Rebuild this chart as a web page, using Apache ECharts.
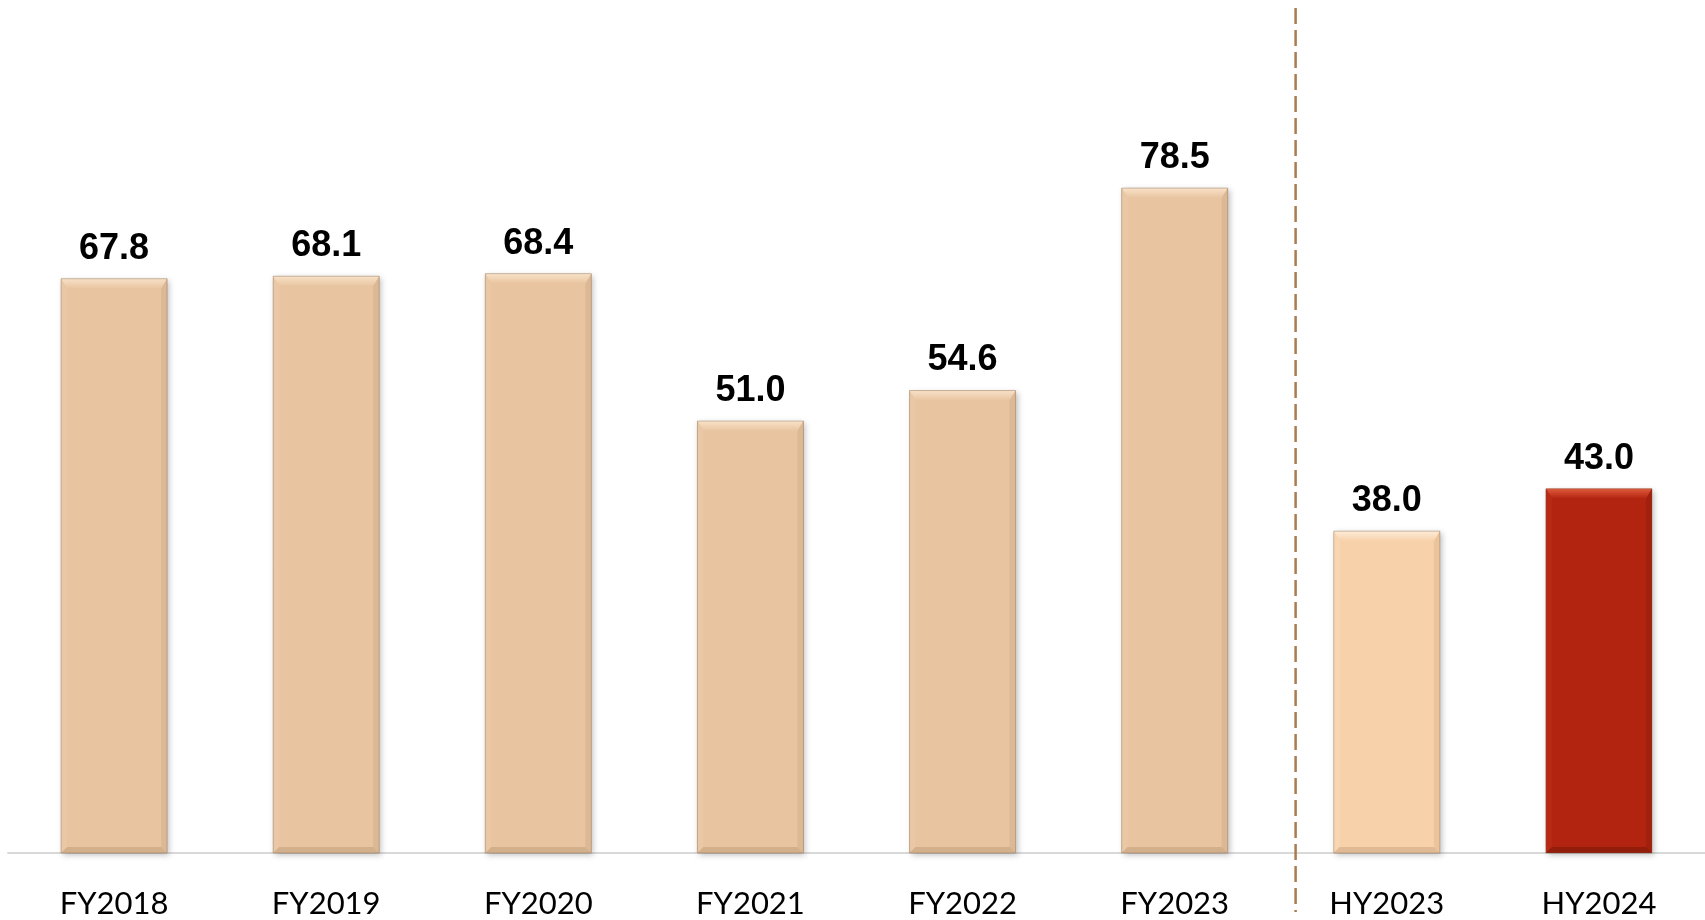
<!DOCTYPE html>
<html>
<head>
<meta charset="utf-8">
<script src="https://cdn.jsdelivr.net/npm/echarts@6/dist/echarts.min.js"></script>
<style>
html,body{margin:0;padding:0;background:#fff;}
#chart{width:1705px;height:920px;}
</style>
</head>
<body>
<div id="chart"></div>
<script>
// ---- data ----
const categories = ['FY2018','FY2019','FY2020','FY2021','FY2022','FY2023','HY2023','HY2024'];
const values = [67.8, 68.1, 68.4, 51.0, 54.6, 78.5, 38.0, 43.0];

// ---- styles (per bar palette index) ----
const paletteIndex = [0,0,0,0,0,0,1,2];
const palettes = [
  {base:'#e8c4a0', top:'#f8e2c8', bottom:'#d3b08c', left:'#ebc8a5', right:'#ddb895'},
  {base:'#f7d1aa', top:'#fdecd8', bottom:'#e0ba94', left:'#f9d6b1', right:'#ebc49d'},
  {base:'#b22410', top:'#e05a3c', bottom:'#921d0b', left:'#b82a15', right:'#a2200e'}
];
const barFrac = 0.5;

const chart = echarts.init(document.getElementById('chart'));
const option = {
  backgroundColor:'#ffffff',
  animation:false,
  grid:{left:8, right:0, top:6, bottom:67, containLabel:false},
  xAxis:{
    type:'category',
    data:categories,
    axisTick:{show:false},
    axisLine:{lineStyle:{color:'#d9d9d9', width:2}},
    axisLabel:{fontFamily:'Lato', fontSize:31, color:'#000', margin:35}
  },
  yAxis:{type:'value', min:0, max:100, show:false, splitLine:{show:false}},
  series:[
    {
      type:'bar',
      data:values.map((v,i)=>({value:v, itemStyle:{color:palettes[paletteIndex[i]].base}})),
      barWidth:(barFrac*100)+'%',
      itemStyle:{shadowBlur:6, shadowColor:'rgba(0,0,0,0.25)', shadowOffsetX:2, shadowOffsetY:2},
      label:{show:true, position:'top', distance:12, fontFamily:'Liberation Sans, Arial', fontWeight:'bold', fontSize:36, color:'#000',
        formatter:p=>p.value.toFixed(1)},
      z:2
    },
    {
      type:'custom',
      silent:true,
      z:3,
      data:values.map((v,i)=>[i,v]),
      renderItem:function(params, api){
        const i = api.value(0), v = api.value(1);
        const top = api.coord([i, v]);
        const base = api.coord([i, 0]);
        const w = api.size([1,0])[0]*barFrac;
        const x0 = top[0]-w/2, x1 = top[0]+w/2, y0 = top[1], y1 = base[1];
        const bt = 10, bs = 6, bb = 6;
        const pal = palettes[paletteIndex[params.dataIndex]];
        return {
          type:'group',
          children:[
            {type:'polygon', shape:{points:[[x0,y0],[x1,y0],[x1-bs,y0+bt],[x0+bs,y0+bt]]},
              style:{fill:new echarts.graphic.LinearGradient(0,0,0,1,[{offset:0,color:pal.top},{offset:1,color:pal.base}])}},
            {type:'polygon', shape:{points:[[x0,y0],[x0+bs,y0+bt],[x0+bs,y1-bb],[x0,y1]]},
              style:{fill:pal.left}},
            {type:'polygon', shape:{points:[[x1,y0],[x1-bs,y0+bt],[x1-bs,y1-bb],[x1,y1]]},
              style:{fill:pal.right}},
            {type:'polygon', shape:{points:[[x0,y1],[x1,y1],[x1-bs,y1-bb],[x0+bs,y1-bb]]},
              style:{fill:pal.bottom}},
            {type:'rect', shape:{x:x0, y:y0, width:w, height:y1-y0},
              style:{fill:'none', stroke:'rgba(120,90,60,0.35)', lineWidth:1}}
          ]
        };
      }
    }
  ]
};
chart.setOption(option);

// dashed separator between FY and HY groups
const pA = chart.convertToPixel({xAxisIndex:0}, 'FY2023');
const pB = chart.convertToPixel({xAxisIndex:0}, 'HY2023');
const sepX = pA + (pB - pA)*0.57;
chart.setOption({
  graphic:[{
    type:'line', z:10,
    shape:{x1:sepX, y1:8, x2:sepX, y2:912},
    style:{stroke:'#a97b50', lineWidth:2.5, lineDash:[16,6]}
  }]
});
</script>
</body>
</html>
